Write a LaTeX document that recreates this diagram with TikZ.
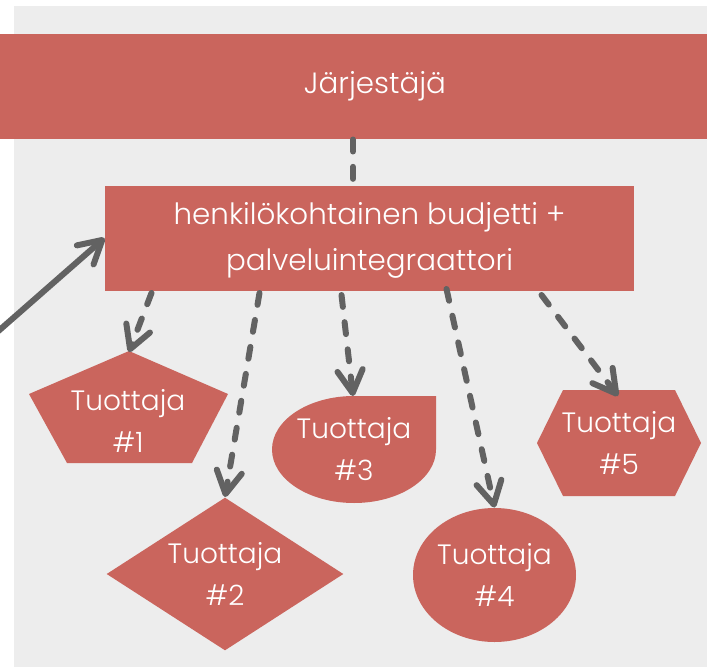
\documentclass[tikz,border=0pt]{standalone}
\usepackage{fontspec}
\setmainfont{Poppins Light}
\usetikzlibrary{shapes.geometric,arrows.meta,calc}

\definecolor{tilered}{RGB}{202,101,93}
\definecolor{bggray}{RGB}{237,237,237}
\definecolor{linegray}{RGB}{98,98,98}

\tikzset{every picture/.style={line width=0.75pt}}
\tikzset{
  redbox/.style={fill=tilered, text=white, inner sep=0pt},
  label/.style={text=white, align=center, font=\fontsize{21}{31.5}\selectfont},
  dashlink/.style={draw=linegray, line width=4.5pt, line cap=round, dash pattern=on 9pt off 11.5pt},
  openhead/.style={-{Straight Barb[length=17pt, width=19pt, line cap=round, line join=round]}},
}

\begin{document}
\begin{tikzpicture}[x=0.75pt,y=0.75pt,yscale=-1,xscale=1]
\useasboundingbox (0,0) rectangle (707,667);

% Background
\fill[bggray] (14,6) rectangle (707,667);

% Top bar
\node[redbox, minimum width=570pt, minimum height=78.75pt, font=\fontsize{22}{33}\selectfont] (jarj) at (375,86.5) {Järjestäjä};

% Middle box
\node[redbox, minimum width=396.75pt, minimum height=78.75pt, label, font=\fontsize{22}{33}\selectfont] (hb) at (369.5,238) {};
\node[label, font=\fontsize{22}{33}\selectfont] (hbtxt) at (369.5,240.5) {henkilökohtainen budjetti +\\[2pt]palveluintegraattori};

% Tuottaja #1 (pentagon)
\fill[tilered] (129,351) -- (228,394) -- (192,463) -- (67,463) -- (29,394) -- cycle;
\coordinate (t1top) at (129,352);
\node[label] (t1) at (128,421) {Tuottaja\\\#1};

% Tuottaja #2 (diamond)
\node[diamond, fill=tilered, minimum width=177.75pt, minimum height=114.75pt, inner sep=0pt] (t2) at (225,574) {};
\node[label] at (t2) {Tuottaja\\\#2};

% Tuottaja #3 (teardrop)
\fill[tilered] (354,396) -- (436,396) -- (436,449.5) arc[start angle=0, end angle=270, x radius=82, y radius=53.5] -- cycle;
\coordinate (t3top) at (353,396);
\node[label] (t3) at (354,449) {Tuottaja\\\#3};

% Tuottaja #4 (ellipse)
\node[ellipse, fill=tilered, minimum width=122.25pt, minimum height=100.5pt, inner sep=0pt] (t4) at (494.5,575) {};
\node[label] at (t4) {Tuottaja\\\#4};

% Tuottaja #5 (hexagon)
\fill[tilered] (563,390) -- (675,390) -- (701,443) -- (675,496) -- (563,496) -- (537,443) -- cycle;
\coordinate (t5top) at (618,396);
\node[label] (t5) at (619,443) {Tuottaja\\\#5};

% Connections
\draw[linegray, line width=4.5pt, line cap=round, openhead] (-5,334) -- (hb.west |- 0,238);
\draw[dashlink] (jarj.south -| 353,0) -- (hb.north -| 353,0);
\draw[dashlink, openhead] ($(hb.south west)+(47,2)$) -- (t1top);
\draw[dashlink, openhead] ($(hb.south west)+(155,2)$) -- (t2.north);
\draw[dashlink, openhead] ($(hb.south west)+(237,4)$) -- (t3top);
\draw[dashlink, openhead] ($(hb.south west)+(342,-2)$) -- (t4.north);
\draw[dashlink, openhead] ($(hb.south west)+(437,4)$) -- (t5top);

\end{tikzpicture}
\end{document}
